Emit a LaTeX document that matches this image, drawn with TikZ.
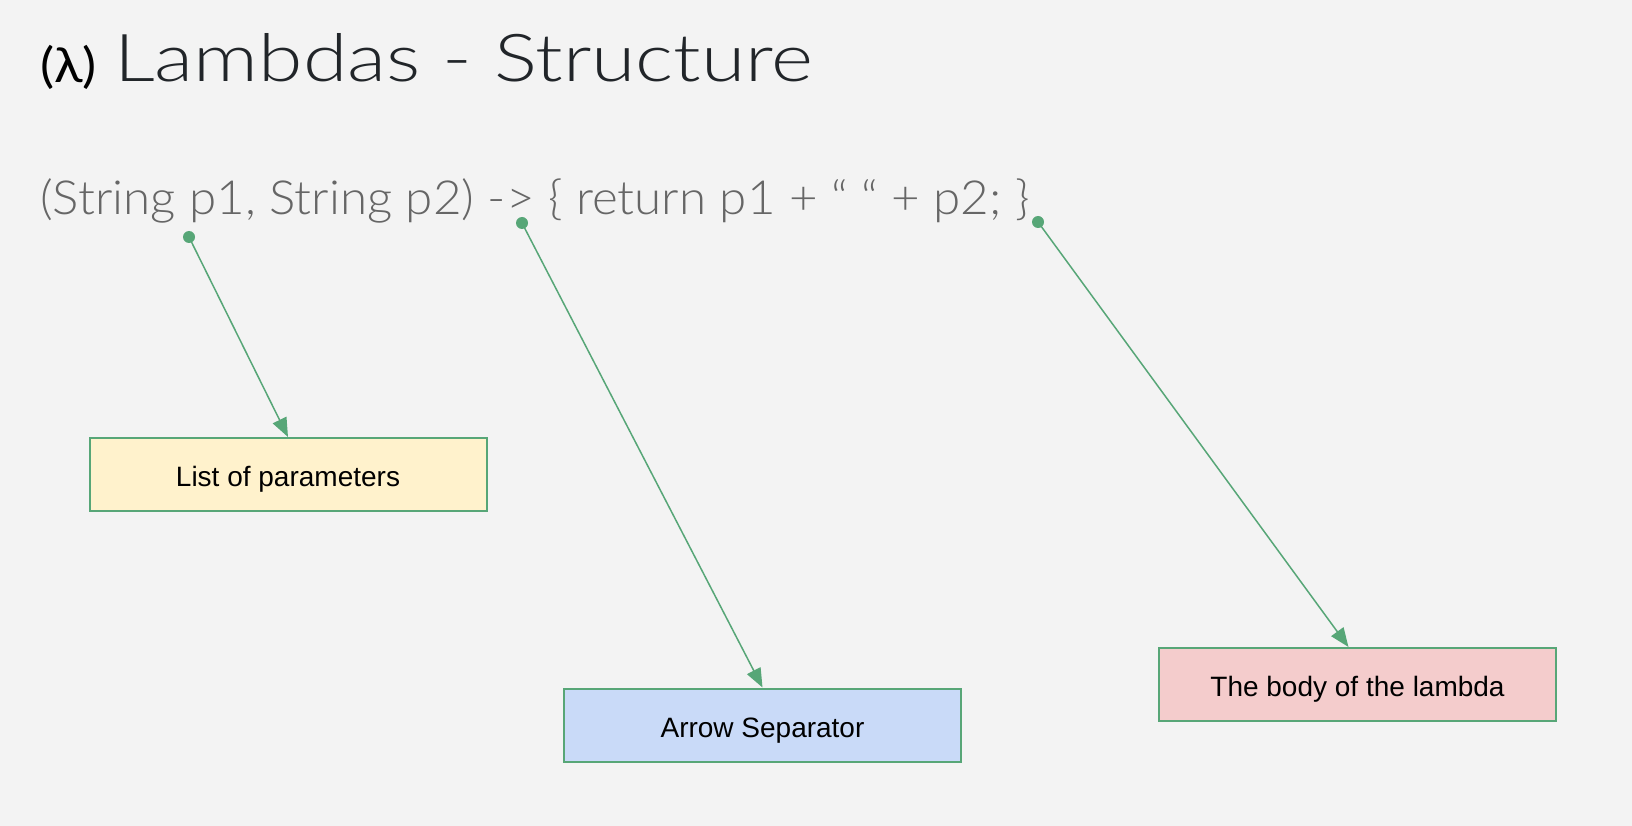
\documentclass[tikz,border=0pt]{standalone}
\usepackage{fontspec}
\setmainfont{Lato}
\newfontfamily\titlefont{Lato Light}[FakeStretch=1.22]
\newfontfamily\codefont{Lato Light}[FakeStretch=1.05]
\newfontfamily\lamfont{Lato}[FakeStretch=1.1]
\newfontfamily\arialfont{Liberation Sans}
\usetikzlibrary{arrows.meta}
\definecolor{bg}{HTML}{F3F3F3}
\definecolor{ttl}{HTML}{212529}
\definecolor{codegray}{HTML}{666666}
\definecolor{grn}{HTML}{57A677}
\definecolor{yel}{HTML}{FFF2CC}
\definecolor{blu}{HTML}{C9DAF8}
\definecolor{pnk}{HTML}{F4CCCC}
\tikzset{
  dot/.style={circle, fill=grn, inner sep=0pt, minimum size=12pt},
  conn/.style={draw=grn, line width=1.5pt, -{Triangle[length=19pt,width=15pt]}},
  labelbox/.style={draw=grn, line width=2pt, minimum width=397pt, minimum height=73pt, inner sep=0pt,
    text height=24pt, text depth=0pt,
    font=\arialfont\fontsize{28}{32}\selectfont, text=black},
}
\begin{document}
\begin{tikzpicture}[x=1pt,y=-1pt]
\fill[bg] (0,0) rectangle (1632,826);
\useasboundingbox (0,0) rectangle (1632,826);
\node[anchor=base west, inner sep=0pt, text=black] (lam) at (40,83) {\lamfont\fontsize{48}{52}\selectfont(λ)};
\node[anchor=base west, inner sep=0pt, text=ttl] (title) at (114,82) {\titlefont\fontsize{66}{70}\selectfont Lambdas - Structure};
\node[anchor=base west, inner sep=0pt, text=codegray] (code) at (40,215) {\codefont\fontsize{47}{52}\selectfont (String p1, String p2) -> \{ return p1 + “ “ + p2; \}};
\node[dot] (d1) at (189,237) {};
\node[dot] (d2) at (522,223) {};
\node[dot] (d3) at (1038,222) {};
\node[labelbox, fill=yel] (b1) at (288,474.5) {List of parameters};
\node[labelbox, fill=blu] (b2) at (762.5,725) {Arrow Separator};
\node[labelbox, fill=pnk] (b3) at (1357.5,684.5) {The body of the lambda};
\draw[conn] (d1.center) -- (b1.north);
\draw[conn] (d2.center) -- (b2.north);
\draw[conn] (d3.center) -- ([xshift=-9pt]b3.north);
\end{tikzpicture}
\end{document}
